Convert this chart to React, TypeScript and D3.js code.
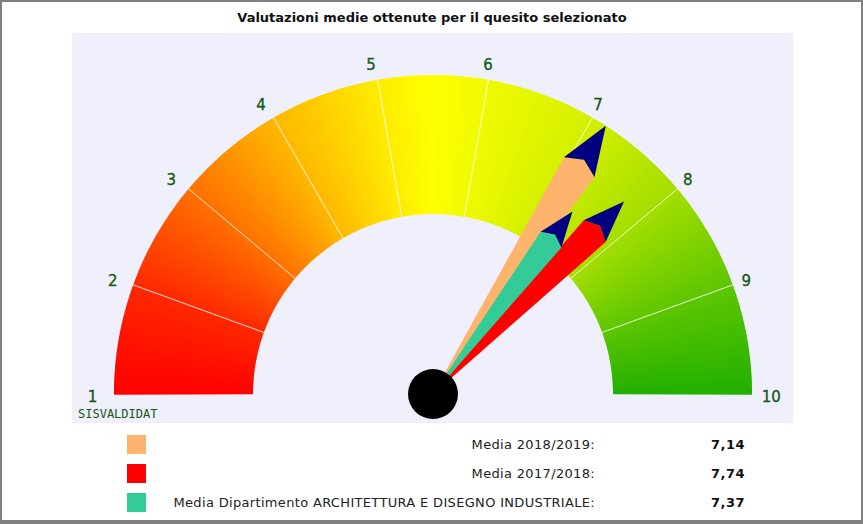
import React from "react";
import * as d3 from "d3";

const TITLE = "Valutazioni medie ottenute per il quesito selezionato";
const SCALE_MIN = 1;
const SCALE_MAX = 10;
const TICK_VALUES = [1, 2, 3, 4, 5, 6, 7, 8, 9, 10];
const SERIES_LABELS = [
  "Media 2018/2019:",
  "Media 2017/2018:",
  "Media Dipartimento ARCHITETTURA E DISEGNO INDUSTRIALE:",
];
const SERIES_VALUES = [7.14, 7.74, 7.37];
const SERIES_VALUE_TEXT = ["7,14", "7,74", "7,37"];
const SERIES_COLORS = ["#ffb46e", "#ff0000", "#33cc99"];
const NEEDLE_LENGTH_FRACTION = [1.0, 0.85, 0.72];
const COLOR_STOP_VALUES = [1, 2, 3, 4, 5, 5.5, 6, 7, 8, 9, 10];
const COLOR_STOP_COLORS = [
  "#ff0000", "#ff2800", "#ff7000", "#ffb800", "#ffec00", "#ffff00",
  "#f0fa00", "#d4f000", "#a4de00", "#5ec600", "#22b000",
];
const WATERMARK = "SISVALDIDAT";

const W = 863;
const H = 524;
const CX = 433;
const CY = 394;
const R_OUT = 319;
const R_IN = 180;

export default function App() {
  // d3 arc angle: 0 = 12 o'clock, clockwise
  const angle = d3.scaleLinear().domain([SCALE_MIN, SCALE_MAX]).range([-Math.PI / 2, Math.PI / 2]);
  const color = d3
    .scaleLinear<string>()
    .domain(COLOR_STOP_VALUES)
    .range(COLOR_STOP_COLORS)
    .interpolate(d3.interpolateRgb);

  const N = 360;
  const step = (SCALE_MAX - SCALE_MIN) / N;
  const slices = d3.range(N).map((i) => {
    const v0 = SCALE_MIN + i * step;
    const v1 = v0 + step;
    return { v0, v1, c: color((v0 + v1) / 2) };
  });
  const arc = d3.arc<any>().innerRadius(R_IN).outerRadius(R_OUT);

  const pt = (v: number, r: number): [number, number] => {
    const a = angle(v);
    return [CX + r * Math.sin(a), CY - r * Math.cos(a)];
  };

  const needle = (v: number, L: number) => {
    const a = angle(v);
    const ux = Math.sin(a), uy = -Math.cos(a);
    const px = -uy, py = ux;
    const P = (u: number, w: number): [number, number] => [CX + ux * u + px * w, CY + uy * u + py * w];
    const base: [number, number] = [CX, CY];
    const lb = P(0.846 * L, -0.057 * L);
    const rb = P(0.846 * L, 0.057 * L);
    const tip = P(L, 0);
    const notch = P(0.874 * L, 0);
    const line = d3.line();
    return {
      body: line([base, lb, notch, rb])! + "Z",
      head: line([lb, tip, rb, notch])! + "Z",
    };
  };

  const dividers = TICK_VALUES.slice(1, -1);
  const legendY = d3.scaleBand<number>().domain(d3.range(SERIES_LABELS.length)).range([435, 522]).paddingInner(0);

  return (
    <svg
      width={W}
      height={H}
      style={{ position: "absolute", left: 0, top: 0, background: "#ffffff" }}
      fontFamily="'DejaVu Sans', Verdana, sans-serif"
    >
      <rect x={0} y={0} width={W} height={H} fill="#ffffff" />
      <rect x={72} y={33} width={721} height={390} fill="#f0f0fd" />
      <text x={432} y={22} textAnchor="middle" fontWeight="bold" fontSize={13} fill="#111">
        {TITLE}
      </text>

      <g>
        {slices.map((s, i) => (
          <path
            key={i}
            d={arc({ startAngle: angle(s.v0) - 0.002, endAngle: angle(s.v1) + 0.002 })!}
            transform={`translate(${CX},${CY})`}
            fill={s.c}
          />
        ))}
      </g>
      <g>
        {dividers.map((v) => {
          const [x1, y1] = pt(v, R_IN);
          const [x2, y2] = pt(v, R_OUT);
          return <line key={v} x1={x1} y1={y1} x2={x2} y2={y2} stroke="#ffffff" strokeOpacity={0.85} strokeWidth={1} />;
        })}
      </g>
      <g>
        {TICK_VALUES.map((v) => {
          const [x, y] = pt(v, 337);
          return (
            <text
              key={v}
              x={x - 8.25}
              y={y + 7.5}
              textAnchor="start"
              fontSize={15}
              fill="#165a16"
              stroke="#165a16"
              strokeWidth={0.35}
            >
              {v}
            </text>
          );
        })}
      </g>
      <text x={78} y={418} fontFamily="'DejaVu Sans Mono', monospace" fontSize={12} fill="#165a16">
        {WATERMARK}
      </text>

      <g>
        {SERIES_VALUES.map((v, i) => {
          const n = needle(v, R_OUT * NEEDLE_LENGTH_FRACTION[i]);
          return (
            <g key={i}>
              <path d={n.body} fill={SERIES_COLORS[i]} />
              <path d={n.head} fill="#000080" />
            </g>
          );
        })}
      </g>
      <circle cx={CX} cy={CY} r={25} fill="#000000" />

      <g>
        {SERIES_LABELS.map((lab, i) => {
          const y = legendY(i)!;
          return (
            <g key={i}>
              <rect x={127} y={y} width={19} height={19} fill={SERIES_COLORS[i]} />
              <text x={595} y={y + 14} textAnchor="end" fontSize={13} letterSpacing={0.33} fill="#222">
                {lab}
              </text>
              <text x={745} y={y + 14} textAnchor="end" fontSize={13} letterSpacing={0.5} fontWeight="bold" fill="#111">
                {SERIES_VALUE_TEXT[i]}
              </text>
            </g>
          );
        })}
      </g>

      <rect x={0} y={0} width={W} height={2} fill="#808080" />
      <rect x={0} y={0} width={2} height={H} fill="#808080" />
      <rect x={861} y={0} width={2} height={H} fill="#808080" />
      <rect x={0} y={520} width={W} height={4} fill="#808080" />
    </svg>
  );
}
